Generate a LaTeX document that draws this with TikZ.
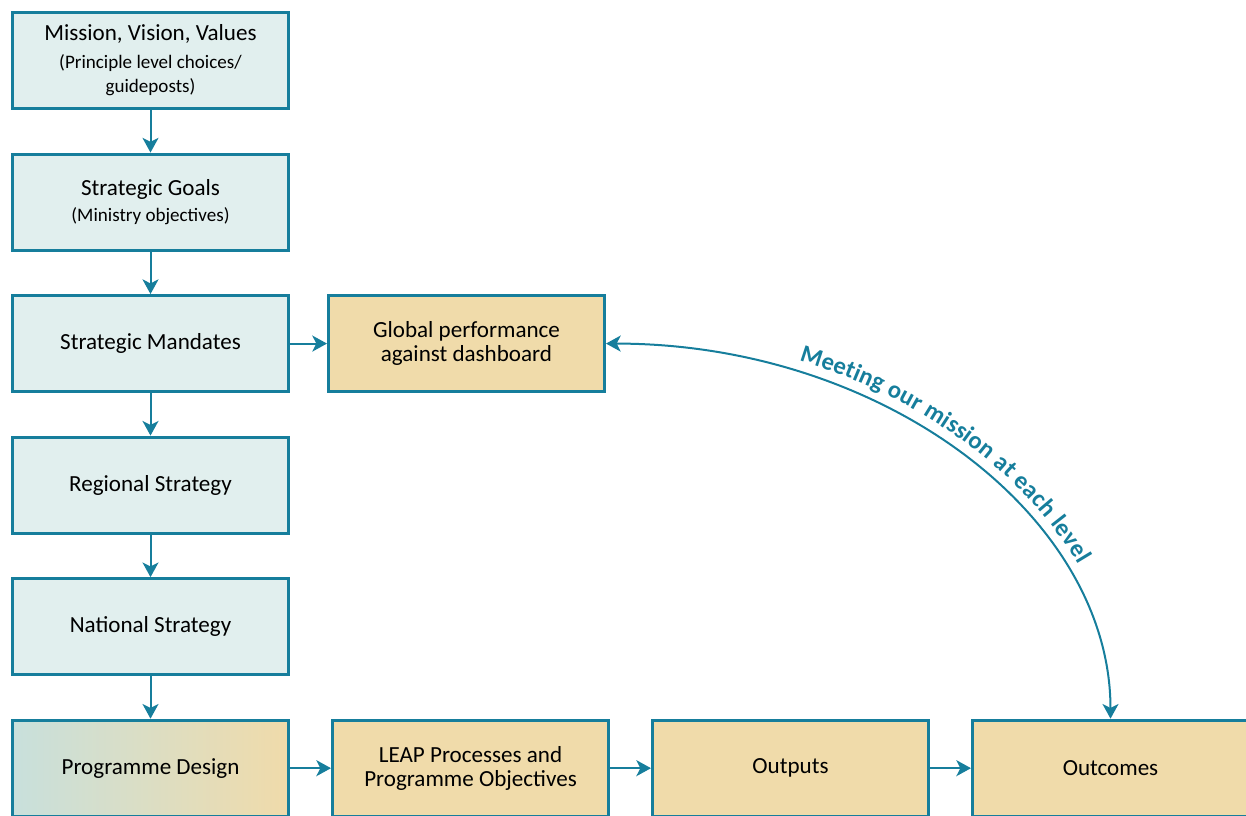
\documentclass[tikz,border=0pt]{standalone}
\usepackage{fontspec}
\setmainfont{Carlito}
\usepackage{tikz}
\usetikzlibrary{positioning, arrows.meta, decorations.text}
\definecolor{leapTeal}{RGB}{22,126,156}
\definecolor{stratFill}{RGB}{225,239,238}
\definecolor{resultFill}{RGB}{240,219,170}
\definecolor{designFrom}{RGB}{200,224,220}
\tikzstyle{stratBox}=[draw=leapTeal, fill=stratFill, line width=2.25pt,
  minimum width=207pt, minimum height=72pt, align=center, inner sep=0pt,
  font=\fontsize{17.3}{18}\selectfont]
\tikzstyle{resultBox}=[stratBox, fill=resultFill]
\tikzstyle{designBox}=[stratBox, left color=designFrom, right color=resultFill]
\tikzstyle{arrow}=[->, line width=1.5pt, draw=leapTeal,
  >={Stealth[length=11pt, width=12pt, inset=3pt]}]
\newcommand{\subfont}{\fontsize{14.3}{15}\selectfont}

\begin{document}
\begin{tikzpicture}[x=0.75pt, y=-0.75pt, node distance=31.9pt]
      \useasboundingbox (0,0) rectangle (1246,815);

      % left column
      \node[stratBox] (mvv) at (150.5,60.5)
        {Mission, Vision, Values\\[3pt]\subfont (Principle level choices/\\\subfont guideposts)};
      \node[stratBox, below=of mvv] (goals)
        {Strategic Goals\\[1pt]\subfont (Ministry objectives)};
      \node[stratBox, below=of goals] (mandates) {Strategic Mandates};
      \node[stratBox, below=of mandates] (regional) {Regional Strategy};
      \node[stratBox, below=of regional] (national) {National Strategy};
      \node[designBox, below=of national] (design) {Programme Design};

      % results
      \node[resultBox, right=27.75pt of mandates] (global)
        {Global performance\\against dashboard};
      \node[resultBox, right=30.75pt of design] (leap)
        {LEAP Processes and\\Programme Objectives};
      \node[resultBox, right=30.75pt of leap] (outputs) {Outputs};
      \node[resultBox, right=30.75pt of outputs] (outcomes) {Outcomes};

      \draw[arrow] (mvv) -- (goals);
      \draw[arrow] (goals) -- (mandates);
      \draw[arrow] (mandates) -- (regional);
      \draw[arrow] (regional) -- (national);
      \draw[arrow] (national) -- (design);
      \draw[arrow] (mandates) -- (global);
      \draw[arrow] (design) -- (leap);
      \draw[arrow] (leap) -- (outputs);
      \draw[arrow] (outputs) -- (outcomes);

      \draw[arrow, <->] (global.east) .. controls +(278,0) and +(0,-202) .. (outcomes.north);
      \path[decorate, decoration={text along path, text color=leapTeal,
          text={|\fontsize{18.5}{20}\selectfont\bfseries|Meeting our mission at each level},
          raise=9pt, text align={left indent=144pt}}]
        (global.east) .. controls +(278,0) and +(0,-202) .. (outcomes.north);
    \end{tikzpicture}
\end{document}
